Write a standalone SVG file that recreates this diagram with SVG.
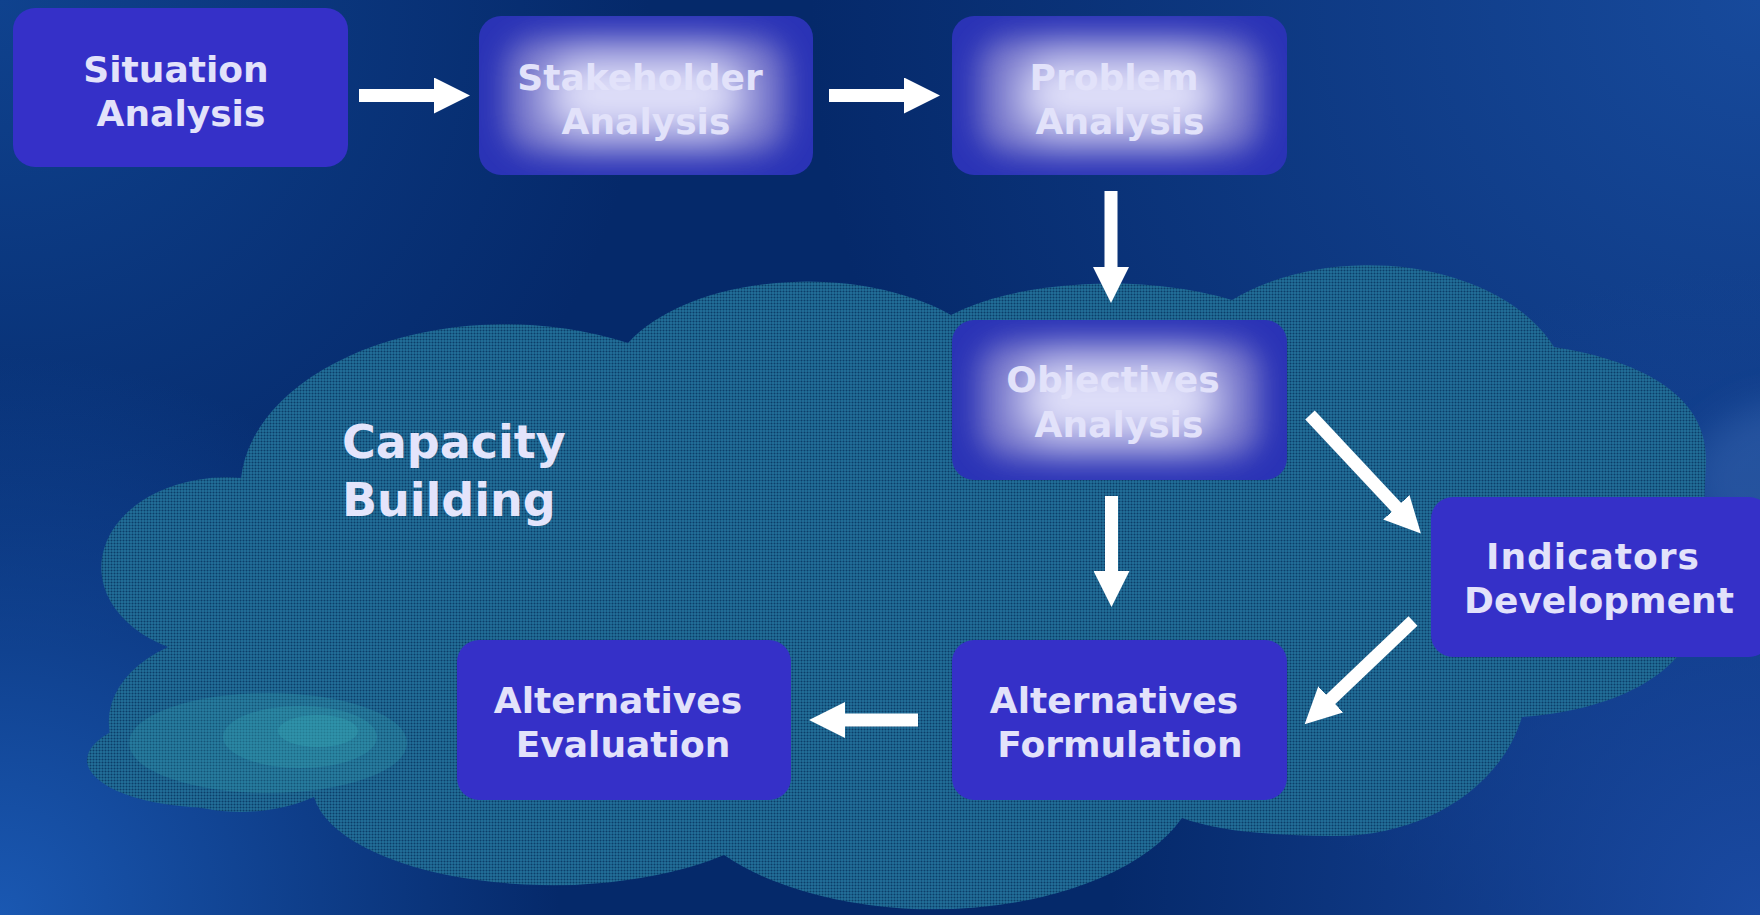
<svg xmlns="http://www.w3.org/2000/svg" width="1760" height="915" viewBox="0 0 1760 915">
  <defs>
    <style>
      .lbl { font-family: "DejaVu Sans", "Liberation Sans", sans-serif; font-weight: bold; font-size: 36px; fill: #e2e2fa; text-anchor: middle; }
      .big { font-family: "DejaVu Sans", "Liberation Sans", sans-serif; font-weight: bold; font-size: 46px; fill: #e4e4fb; }
      .solid { fill: #3530c8; }
      .glowbase { fill: #2a33b6; }
      .glowmid { fill: #7070c8; filter: url(#wide); }
      .glowcore { fill: #e2e2fa; filter: url(#soft); }
      .shaft { stroke: #ffffff; stroke-width: 13; fill: none; marker-end: url(#head); }
    </style>

    <!-- background tones -->
    <radialGradient id="bgTR" cx="1760" cy="0" r="950" gradientUnits="userSpaceOnUse">
      <stop offset="0" stop-color="#174a9c"/>
      <stop offset="1" stop-color="#174a9c" stop-opacity="0"/>
    </radialGradient>
    <radialGradient id="bgBL" cx="0" cy="915" r="560" gradientUnits="userSpaceOnUse">
      <stop offset="0" stop-color="#1a58b2"/>
      <stop offset="1" stop-color="#1a58b2" stop-opacity="0"/>
    </radialGradient>
    <radialGradient id="bgTL" cx="0" cy="0" r="650" gradientUnits="userSpaceOnUse">
      <stop offset="0" stop-color="#0f428e"/>
      <stop offset="1" stop-color="#0f428e" stop-opacity="0"/>
    </radialGradient>
    <radialGradient id="bgBR" cx="1760" cy="915" r="650" gradientUnits="userSpaceOnUse">
      <stop offset="0" stop-color="#1a4aa2"/>
      <stop offset="1" stop-color="#1a4aa2" stop-opacity="0"/>
    </radialGradient>

    <!-- fine dotted screen used on the cloud -->
    <pattern id="screen" width="3" height="3" patternUnits="userSpaceOnUse">
      <rect width="3" height="3" fill="#216c96"/>
      <rect width="3" height="1" fill="#195a84"/>
      <rect width="1" height="3" fill="#195a84"/>
      <rect width="1" height="1" fill="#0c3d69"/>
    </pattern>

    <filter id="soft" x="-50%" y="-50%" width="200%" height="200%">
      <feGaussianBlur stdDeviation="22"/>
    </filter>
    <filter id="wide" x="-50%" y="-50%" width="200%" height="200%">
      <feGaussianBlur stdDeviation="14"/>
    </filter>
    <filter id="haze" x="-50%" y="-50%" width="200%" height="200%">
      <feGaussianBlur stdDeviation="18"/>
    </filter>

    <marker id="head" viewBox="0 0 36 36" markerWidth="36" markerHeight="36" refX="1" refY="18" orient="auto" markerUnits="userSpaceOnUse">
      <path d="M0,0 L36,18 L0,36 Z" fill="#ffffff"/>
    </marker>

    <clipPath id="cStake"><rect x="479" y="16" width="334" height="159" rx="22"/></clipPath>
    <clipPath id="cProb"><rect x="952" y="16" width="335" height="159" rx="22"/></clipPath>
    <clipPath id="cObj"><rect x="952" y="320" width="335" height="160" rx="22"/></clipPath>
  </defs>

  <!-- backdrop -->
  <g id="background">
    <rect width="1760" height="915" fill="#05296a"/>
    <rect width="1760" height="915" fill="url(#bgTL)"/>
    <rect width="1760" height="915" fill="url(#bgTR)"/>
    <rect width="1760" height="915" fill="url(#bgBL)"/>
    <rect width="1760" height="915" fill="url(#bgBR)"/>
    <ellipse cx="1800" cy="480" rx="110" ry="80" fill="#4a78c0" opacity="0.35" filter="url(#haze)"/>
  </g>

  <!-- capacity building cloud -->
  <g id="cloud">
    <path fill="url(#screen)" d="M241,478
      A265,165 0 0 1 628,343
      A200,110 0 0 1 951,315
      A200,80 0 0 1 1232,300
      A200,130 0 0 1 1554,347
      C1650,362 1708,400 1706,462
      L1700,600
      C1696,680 1600,712 1522,717
      C1500,790 1420,838 1330,836
      C1260,835 1215,830 1182,818
      A265,140 0 0 1 724,855
      A240,100 0 0 1 314,797
      A125,85 0 0 1 168,647
      A125,90 0 0 1 241,478 Z"/>
    <ellipse cx="215" cy="760" rx="128" ry="48" fill="url(#screen)"/>
    <ellipse cx="268" cy="743" rx="139" ry="50" fill="#3ab2ba" opacity="0.2"/>
    <ellipse cx="300" cy="737" rx="77" ry="31" fill="#3ab2ba" opacity="0.22"/>
    <ellipse cx="318" cy="731" rx="40" ry="16" fill="#3ab2ba" opacity="0.25"/>
    <text class="big" x="342" y="458">Capacity</text>
    <text class="big" x="342" y="516">Building</text>
  </g>

  <!-- connectors -->
  <g id="connectors">
    <line class="shaft" x1="359" y1="95.5" x2="435" y2="95.5"/>
    <line class="shaft" x1="829" y1="95.5" x2="905" y2="95.5"/>
    <line class="shaft" x1="1111" y1="191" x2="1111" y2="268"/>
    <line class="shaft" x1="1111.5" y1="496" x2="1111.5" y2="572"/>
    <line class="shaft" x1="1310" y1="415" x2="1397" y2="508"/>
    <line class="shaft" x1="1413" y1="621" x2="1330" y2="700"/>
    <line class="shaft" x1="918" y1="720" x2="844" y2="720"/>
  </g>

  <g id="situation-analysis">
    <rect class="solid" x="13" y="8" width="335" height="159" rx="22"/>
    <text class="lbl" x="176" y="82">Situation</text>
    <text class="lbl" x="181" y="126">Analysis</text>
  </g>

  <g id="stakeholder-analysis">
    <g clip-path="url(#cStake)">
      <rect class="glowbase" x="479" y="16" width="334" height="159"/>
      <rect class="glowmid" x="505" y="38" width="282" height="115" rx="30"/>
      <rect class="glowcore" x="545" y="56" width="202" height="79" rx="30"/>
    </g>
    <text class="lbl" x="640" y="90">Stakeholder</text>
    <text class="lbl" x="646" y="134">Analysis</text>
  </g>

  <g id="problem-analysis">
    <g clip-path="url(#cProb)">
      <rect class="glowbase" x="952" y="16" width="335" height="159"/>
      <rect class="glowmid" x="978" y="38" width="283" height="115" rx="30"/>
      <rect class="glowcore" x="1018" y="56" width="203" height="79" rx="30"/>
    </g>
    <text class="lbl" x="1114" y="90">Problem</text>
    <text class="lbl" x="1120" y="134">Analysis</text>
  </g>

  <g id="objectives-analysis">
    <g clip-path="url(#cObj)">
      <rect class="glowbase" x="952" y="320" width="335" height="160"/>
      <rect class="glowmid" x="978" y="342" width="283" height="116" rx="30"/>
      <rect class="glowcore" x="1018" y="360" width="203" height="80" rx="30"/>
    </g>
    <text class="lbl" x="1113" y="392">Objectives</text>
    <text class="lbl" x="1119" y="437">Analysis</text>
  </g>

  <g id="indicators-development">
    <rect class="solid" x="1431" y="497" width="340" height="160" rx="22"/>
    <text class="lbl" x="1593" y="569" letter-spacing="1">Indicators</text>
    <text class="lbl" x="1599" y="613">Development</text>
  </g>

  <g id="alternatives-formulation">
    <rect class="solid" x="952" y="640" width="335" height="160" rx="22"/>
    <text class="lbl" x="1114" y="713">Alternatives</text>
    <text class="lbl" x="1120" y="757">Formulation</text>
  </g>

  <g id="alternatives-evaluation">
    <rect class="solid" x="457" y="640" width="334" height="160" rx="22"/>
    <text class="lbl" x="618" y="713">Alternatives</text>
    <text class="lbl" x="623" y="757">Evaluation</text>
  </g>
</svg>
